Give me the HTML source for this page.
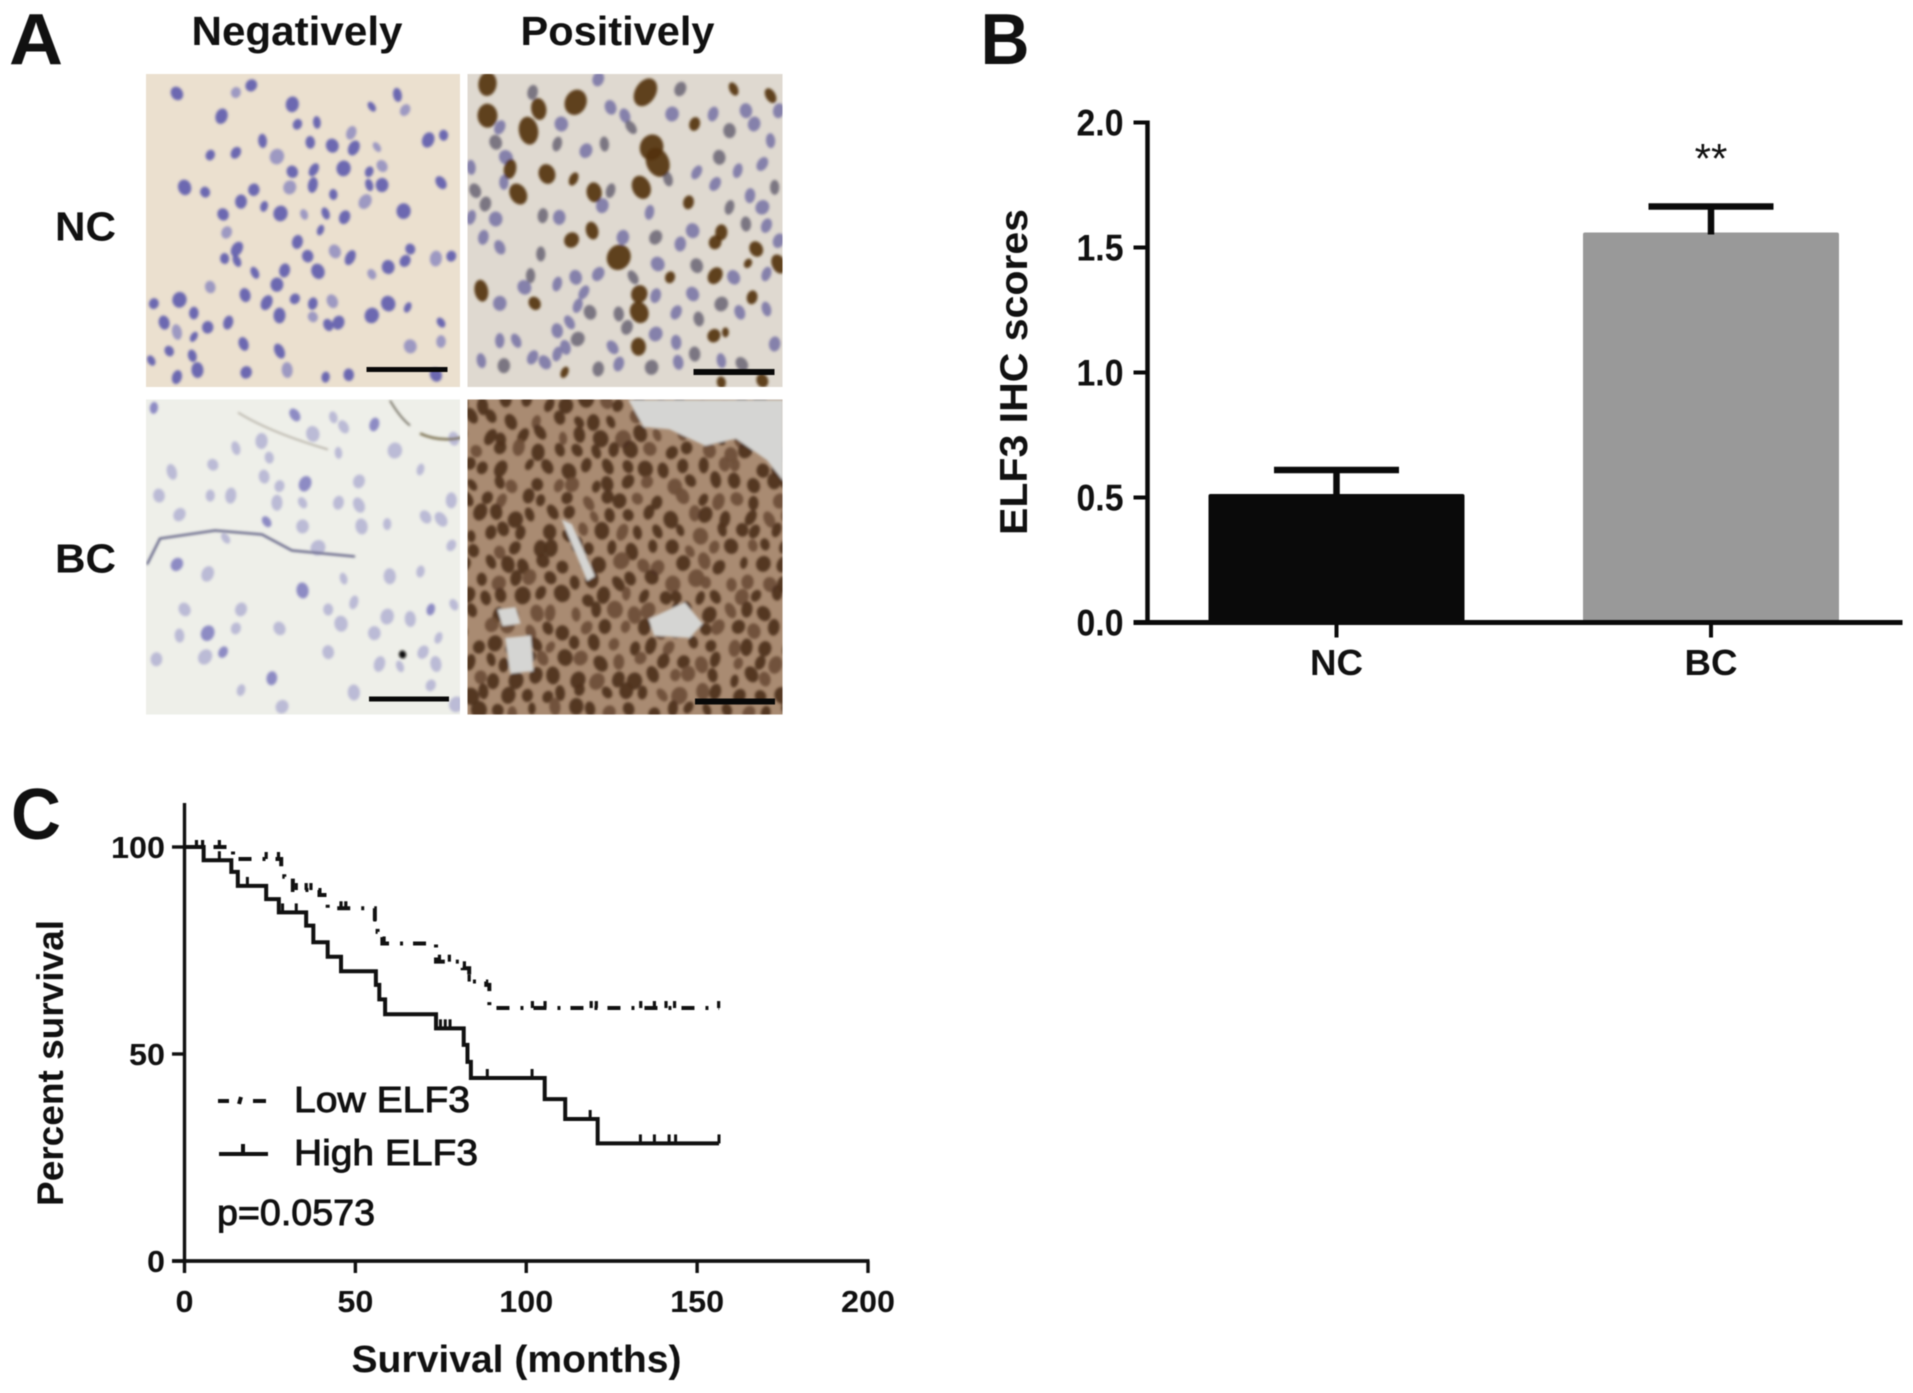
<!DOCTYPE html>
<html lang="en">
<head>
<meta charset="utf-8">
<title>ELF3 IHC figure</title>
<style>
html,body{margin:0;padding:0;background:#fff}
svg{display:block;filter:blur(.6px)}
text{font-family:"Liberation Sans",sans-serif;fill:#111}
.b{font-weight:bold}
.m{stroke:#111;stroke-width:.9px}
</style>
</head>
<body>
<svg id="fig" xmlns="http://www.w3.org/2000/svg" width="1913" height="1393" viewBox="0 0 1913 1393">
<defs>
<clipPath id="c1"><rect x="146" y="74" width="314" height="313"/></clipPath>
<clipPath id="c2"><rect x="467.500" y="74" width="315" height="313"/></clipPath>
<clipPath id="c3"><rect x="146" y="399.500" width="314" height="315"/></clipPath>
<clipPath id="c4"><rect x="467.500" y="399.500" width="315" height="315"/></clipPath>
<filter id="soft" x="-5%" y="-5%" width="110%" height="110%"><feGaussianBlur stdDeviation="1.2"/></filter>
</defs>

<g id="panelA">
  <text class="b" x="9" y="64" font-size="72" textLength="54" lengthAdjust="spacingAndGlyphs">A</text>
  <text class="b" x="191.500" y="45" font-size="41" textLength="211" lengthAdjust="spacingAndGlyphs">Negatively</text>
  <text class="b" x="520.500" y="45" font-size="41" textLength="194" lengthAdjust="spacingAndGlyphs">Positively</text>
  <text class="b" x="55" y="240.500" font-size="41" textLength="61" lengthAdjust="spacingAndGlyphs">NC</text>
  <text class="b" x="55" y="572.500" font-size="41" textLength="61" lengthAdjust="spacingAndGlyphs">BC</text>

  <g clip-path="url(#c1)">
    <rect x="146" y="74" width="317" height="314" fill="#ebe0cf"/>
    <g id="m1" filter="url(#soft)"></g>
    <rect x="366.500" y="367" width="81" height="5" fill="#080808"/>
  </g>
  <g clip-path="url(#c2)">
    <rect x="467" y="74" width="316" height="314" fill="#dfd9d0"/>
    <g id="m2" transform="translate(-2.500,0)" filter="url(#soft)"></g>
    <rect x="693.500" y="369" width="81" height="6" fill="#080808"/>
  </g>
  <g clip-path="url(#c3)">
    <rect x="146" y="399" width="317" height="316" fill="#eeefe9"/>
    <g id="m3" transform="translate(0,-2.500)" filter="url(#soft)"></g>
    <rect x="369" y="696.500" width="80" height="5" fill="#080808"/>
  </g>
  <g clip-path="url(#c4)">
    <rect x="467" y="399" width="316" height="316" fill="#a98b72"/>
    <g id="m4" transform="translate(-2.500,-2.500)" filter="url(#soft)"></g>
    <rect x="695" y="698.500" width="80" height="6" fill="#080808"/>
  </g>
</g>

<g id="panelB">
  <text class="b" x="980.500" y="64" font-size="72" textLength="49" lengthAdjust="spacingAndGlyphs">B</text>
  <text class="b" transform="translate(1027,372) rotate(-90)" text-anchor="middle" font-size="39" textLength="326" lengthAdjust="spacingAndGlyphs">ELF3 IHC scores</text>
  <g id="chartB"></g>
</g>

<g id="panelC">
  <text class="b" x="11" y="839" font-size="72" textLength="50" lengthAdjust="spacingAndGlyphs">C</text>
  <text class="b" transform="translate(63,1063) rotate(-90)" text-anchor="middle" font-size="37" textLength="286" lengthAdjust="spacingAndGlyphs">Percent survival</text>
  <text class="b" x="516.500" y="1372" text-anchor="middle" font-size="38" textLength="330" lengthAdjust="spacingAndGlyphs">Survival (months)</text>
  <g id="chartC"></g>
  <g>
    <path d="M218 1101H229M241 1097L239 1104M253 1101H266" fill="none" stroke="#111" stroke-width="4"/>
    <text class="m" x="294" y="1112" font-size="36" textLength="176" lengthAdjust="spacingAndGlyphs">Low ELF3</text>
  </g>
  <g>
    <path d="M219 1154H268M243 1154V1144" fill="none" stroke="#111" stroke-width="4"/>
    <text class="m" x="294" y="1165" font-size="36" textLength="184" lengthAdjust="spacingAndGlyphs">High ELF3</text>
  </g>
  <text class="m" x="217" y="1225" font-size="36" textLength="158" lengthAdjust="spacingAndGlyphs">p=0.0573</text>
</g>

<script>
// ---------- Bar chart data (panel B) ----------
const barCategories = ['NC', 'BC'];
const barMeans = [0.514, 1.56];
const barErrors = [0.096, 0.104];
const barColors = ['#0a0a0a', '#999999'];
const barYTicks = [0, 0.5, 1, 1.5, 2];
const barYTickLabels = ['0.0', '0.5', '1.0', '1.5', '2.0'];
const barSignificance = ['', '**'];

// ---------- Survival chart data (panel C) ----------
const survivalXTicks = [0, 50, 100, 150, 200];
const survivalYTicks = [0, 50, 100];
const followUpEnd = 156.4;
const highTimes = [5.6, 13.7, 15.6, 23.9, 27.6, 35.6, 37.7, 41.9, 45.8, 56, 57, 58.7, 73.6, 81.7, 82.8, 83.8, 105.4, 111.4, 120.9];
const highSurvival = [96.8, 94.0, 90.6, 87.4, 84.2, 81.0, 77.0, 73.5, 70.0, 66.7, 63.2, 59.6, 56.2, 52.2, 48.1, 44.2, 39.1, 34.3, 28.4];
const highCensored = [10.2, 18.4, 28.7, 32.7, 74.9, 76.3, 77.7, 88.6, 101.7, 118.7, 133.4, 137.5, 141.8, 143.7, 156.4];
const lowTimes = [14.2, 28.3, 29.2, 31.7, 39.5, 41.9, 55.7, 56.5, 57.9, 73.6, 81.4, 83.3, 88.3, 89.2];
const lowSurvival = [97.1, 94.9, 92.8, 89.6, 88.4, 85.2, 82, 79.5, 76.7, 72.3, 70.7, 67.5, 66.7, 61.1];
const lowCensored = [3.5, 5.3, 10.2, 23.9, 27.5, 32.7, 35.6, 37, 45.8, 47.2, 55.7, 58.4, 74.6, 77.5, 81.9, 83.3, 101.8, 105.5, 119, 120.5, 133.5, 137.5, 140.9, 143.4, 156.3];

const NS = 'http://www.w3.org/2000/svg';
function mk(tag, attrs, parent) {
  const el = document.createElementNS(NS, tag);
  for (const k in attrs) el.setAttribute(k, attrs[k]);
  parent.appendChild(el);
  return el;
}

// ---------- Panel B ----------
(function () {
  const g = document.getElementById('chartB');
  const y = v => 622.5 - v * 250;
  const xCenter = i => 1336.5 + i * 374.5;
  const barW = 256, capW = 125;
  const axisX = 1147.5;

  barCategories.forEach((cat, i) => {
    const cx = xCenter(i);
    const bar = mk('rect', { x: cx - barW / 2, y: y(barMeans[i]), width: barW, height: y(0) - y(barMeans[i]), rx: 2, fill: barColors[i] }, g);
    
    
    const top = y(barMeans[i] + barErrors[i]);
    const err = mk('path', { d: `M${cx} ${y(barMeans[i]) + 2}V${top}M${cx - capW / 2} ${top}H${cx + capW / 2}`, fill: 'none', stroke: '#0a0a0a', 'stroke-width': 6.5 }, g);
    
    
    const tick = mk('line', { x1: cx, x2: cx, y1: y(0), y2: y(0) + 15, stroke: '#0a0a0a', 'stroke-width': 4 }, g);
    
    
    const lab = mk('text', { x: cx, y: 675, 'text-anchor': 'middle', 'font-size': 36, 'font-weight': 'bold', textLength: 53, lengthAdjust: 'spacingAndGlyphs' }, g);
    lab.textContent = cat;
    
    
    if (barSignificance[i]) {
      const s = mk('text', { x: cx, y: 173, 'text-anchor': 'middle', 'font-size': 42, fill: '#333' }, g);
      s.textContent = barSignificance[i];
      
      
    }
  });

  const yAxis = mk('line', { x1: axisX, x2: axisX, y1: y(2) - 2, y2: y(0) + 2, stroke: '#0a0a0a', 'stroke-width': 4.5 }, g);
  
  
  const xAxis = mk('line', { x1: axisX - 14, x2: 1902.5, y1: y(0), y2: y(0), stroke: '#0a0a0a', 'stroke-width': 5 }, g);
  
  

  barYTicks.forEach((v, i) => {
    const t = mk('line', { x1: axisX - 14, x2: axisX, y1: y(v), y2: y(v), stroke: '#0a0a0a', 'stroke-width': 4 }, g);
    
    
    const l = mk('text', { x: axisX - 24, y: y(v) + 13, 'text-anchor': 'end', 'font-size': 37, 'font-weight': 'bold', textLength: 47, lengthAdjust: 'spacingAndGlyphs' }, g);
    l.textContent = barYTickLabels[i];
    
    
  });
})();

// ---------- Panel C ----------
(function () {
  const g = document.getElementById('chartC');
  const x = t => 184.5 + t * 3.4175;
  const y = p => 1261 - p * 4.14;

  function stepPath(times, surv) {
    let d = `M${x(0)} ${y(100)}`;
    times.forEach((t, i) => { d += `H${x(t)}V${y(surv[i])}`; });
    return d + `H${x(followUpEnd)}`;
  }
  function survivalAt(times, surv, t) {
    let s = 100;
    times.forEach((tt, i) => { if (tt <= t) s = surv[i]; });
    return s;
  }

  const yAxis = mk('line', { x1: x(0), x2: x(0), y1: 803, y2: y(0) + 2, stroke: '#111', 'stroke-width': 3.4 }, g);
  
  
  const xAxis = mk('line', { x1: 172, x2: x(200) + 1.5, y1: y(0), y2: y(0), stroke: '#111', 'stroke-width': 3.8 }, g);
  
  

  survivalXTicks.forEach(v => {
    const t = mk('line', { x1: x(v), x2: x(v), y1: y(0), y2: y(0) + 12, stroke: '#111', 'stroke-width': 3.4 }, g);
    
    
    const s = String(v);
    const l = mk('text', { x: x(v), y: 1312, 'text-anchor': 'middle', 'font-size': 31, 'font-weight': 'bold', textLength: s.length * 18, lengthAdjust: 'spacingAndGlyphs' }, g);
    l.textContent = s;
    
    
  });
  survivalYTicks.forEach(v => {
    const t = mk('line', { x1: 172, x2: x(0), y1: y(v), y2: y(v), stroke: '#111', 'stroke-width': 3.4 }, g);
    
    
    const s = String(v);
    const l = mk('text', { x: 165, y: y(v) + 11, 'text-anchor': 'end', 'font-size': 31, 'font-weight': 'bold', textLength: s.length * 18, lengthAdjust: 'spacingAndGlyphs' }, g);
    l.textContent = s;
    
    
  });

  const low = mk('path', { d: stepPath(lowTimes, lowSurvival), fill: 'none', stroke: '#111', 'stroke-width': 4, 'stroke-dasharray': '13 11 3 10', 'stroke-dashoffset': 8 }, g);
  
  
  lowCensored.forEach(t => {
    const py = y(survivalAt(lowTimes, lowSurvival, t));
    const c = mk('line', { x1: x(t), x2: x(t), y1: py, y2: py - 7, stroke: '#111', 'stroke-width': 3.2 }, g);
    
    
  });

  const high = mk('path', { d: stepPath(highTimes, highSurvival), fill: 'none', stroke: '#111', 'stroke-width': 4 }, g);
  
  
  highCensored.forEach(t => {
    const py = y(survivalAt(highTimes, highSurvival, t));
    const c = mk('line', { x1: x(t), x2: x(t), y1: py, y2: py - 9, stroke: '#111', 'stroke-width': 3 }, g);
    
    
  });
})();
</script>

<script>
// Decorative micrograph texture (tissue photographs, not chart data).
(function () {
  const SX = 1 / 1.95, SY = 1 / 2.108;
  const ZX = 1 / 2.4375, ZY = 1 / 3;
  function shape(g, cx, cy, r, fill, name, op) {
    const seedish = Math.abs(Math.round(cx * 7 + cy * 13));
    const a = (seedish % 70) - 35;
    const squash = 0.62 + (seedish % 5) * 0.07;
    const e = document.createElementNS('http://www.w3.org/2000/svg', 'ellipse');
    e.setAttribute('cx', cx);
    e.setAttribute('cy', cy);
    e.setAttribute('rx', r * squash);
    e.setAttribute('ry', r);
    e.setAttribute('fill', fill);
    e.setAttribute('opacity', op);
    e.setAttribute('transform', `rotate(${a} ${cx} ${cy})`);
    
    
    g.appendChild(e);
  }
  function blob(g, px, py, r, fill, name, op) {
    shape(g, px * SX, py * SY, r, fill, name, op);
  }
  function zblob(g, zx, zy, r, fill, name, op) {
    shape(g, 147 + zx * ZX, 74 + zy * ZY, r, fill, name, op);
  }

  const ncNeg = [[460,195],[490,180],[345,197],[570,220],[725,225],[790,232],[775,200],[432,245],[580,262],[618,258],[685,280],[835,295],[865,285],[460,322],[512,297],[540,330],[410,327],[605,300],[648,307],[690,312],[735,310],[570,362],[612,358],[670,355],[720,362],[745,350],[860,385],[360,395],[400,405],[495,400],[565,395],[610,390],[650,410],[720,390],[745,390],[712,425],[515,435],[435,452],[470,425],[547,450],[593,452],[635,450],[672,458],[787,445],[625,485],[442,490],[580,510],[462,525],[438,545],[462,550],[653,530],[683,543],[800,525],[790,550],[757,563],[850,545],[880,540],[497,575],[555,570],[620,572],[725,578],[600,540],[540,600],[350,632],[300,640],[410,605],[478,622],[520,638],[575,630],[610,640],[648,635],[757,640],[795,648],[378,660],[320,680],[345,700],[378,710],[405,690],[445,680],[545,665],[610,668],[640,685],[660,680],[725,665],[860,680],[860,720],[475,725],[545,740],[330,740],[375,750],[800,730],[385,780],[295,760],[480,785],[345,795],[560,780],[635,795],[680,790],[850,790]];
  const m1 = document.getElementById('m1');
  ncNeg.forEach((p, i) => blob(m1, p[0], p[1], 5.5 + (i % 4) * 0.8, i % 5 === 0 ? '#8f8cc0' : '#5553ab', 'nucleus', 0.85));

  const ncPosBlue = [[940,55],[1165,125],[1100,15],[1300,45],[1460,110],[1520,200],[1115,210],[1070,230],[860,160],[850,205],[875,250],[870,325],[825,390],[850,435],[820,490],[1130,350],[1110,395],[1225,415],[1270,315],[1340,295],[1440,290],[1420,400],[1470,365],[1005,430],[965,425],[1160,490],[1245,570],[1340,575],[1045,610],[1100,600],[1185,610],[1240,665],[1065,655],[935,605],[860,688],[1050,695],[1080,715],[1030,745],[1000,770],[1050,795],[900,800],[860,800],[870,875],[940,850],[970,865],[1100,885],[1150,870],[1135,820],[1230,880],[1290,805],[1295,865],[1335,840],[1510,705],[1445,715],[1345,735],[1510,600],[1510,455],[1460,450],[815,860],[1380,120],[1420,170],[1480,150],[1540,110],[1395,250],[1500,270],[1385,330],[1530,340],[1500,400],[1330,470],[1240,490],[1300,510],[1540,500],[1400,690],[1330,660],[1430,610],[1180,160],[1130,100],[1280,120],[1000,210],[1010,150],[790,280],[800,350],[790,430],[860,520],[960,540],[920,640],[1000,630],[1150,720],[1290,715],[1400,860],[1450,870],[1530,810],[1240,780],[1170,760],[1000,840],[1020,820]];
  const ncPosBrown = [[830,30,12],[1215,55,15],[1045,85,13],[955,105,11],[830,125,12],[930,170,14],[1230,220,13],[1245,265,15],[1205,340,12],[1090,355,10],[975,300,10],[885,285,10],[905,360,11],[1040,315,7],[1320,385,7],[1335,150,7],[1430,45,7],[1520,65,8],[1400,475,8],[1385,505,7],[1485,525,8],[1540,570,10],[1035,498,8],[1085,470,9],[1150,550,13],[1275,610,6],[1385,605,9],[1475,670,7],[815,650,11],[945,688,7],[1200,715,11],[1200,660,9],[1198,818,9],[1382,785,7],[1410,775,5],[1465,568,5],[1018,895,6],[1400,925,6],[1500,920,7]];
  const m2 = document.getElementById('m2');
  ncPosBlue.forEach((p, i) => zblob(m2, p[0] + 6, p[1], 7.5, i % 3 === 0 ? '#6a6574' : '#7571a4', 'nucleus', 0.85));
  ncPosBrown.forEach(p => zblob(m2, p[0] + 6, p[1], p[2], '#54330f', 'stained-nucleus', 0.92));

  const bcNeg = [[300,865],[310,1050],[335,1000],[415,985],[460,950],[510,935],[525,970],[575,880],[610,920],[650,885],[670,905],[770,955],[820,995],[700,1020],[595,1025],[545,1030],[515,1010],[540,1065],[590,1065],[660,1065],[700,1070],[520,1105],[590,1115],[705,1115],[755,1110],[830,1095],[860,1100],[880,1155],[345,1195],[405,1215],[670,1225],[690,1275],[755,1305],[885,1280],[350,1345],[405,1340],[460,1330],[545,1330],[665,1320],[855,1350],[305,1395],[400,1390],[435,1380],[640,1380],[740,1405],[780,1410],[825,1380],[850,1405],[470,1460],[530,1435],[690,1465],[840,1450],[550,1495],[890,1490],[410,1050],[885,930],[590,1250],[640,1290],[470,1290],[760,1220],[820,1210],[360,1290],[620,1160],[840,1290],[730,1340],[800,1310],[440,1140],[350,1090],[450,1050],[660,960],[730,900],[880,1060]];
  const m3 = document.getElementById('m3');
  bcNeg.forEach((p, i) => blob(m3, p[0], p[1], 6 + (i % 3), i % 7 === 0 ? '#7c7abd' : '#b3b2d2', 'nucleus', 0.85));
  [['M147 567L160 541L215 533L262 537L292 553L355 559', '#4f5078', 2],
   ['M238 415Q270 435 328 452', '#9c9488', 1.2],
   ['M390 403Q400 420 410 428', '#5a5546', 1.6],
   ['M420 436Q440 445 462 440', '#7a6f50', 2.5]].forEach(v => {
    const l = document.createElementNS('http://www.w3.org/2000/svg', 'path');
    l.setAttribute('d', v[0]);
    l.setAttribute('fill', 'none');
    l.setAttribute('stroke', v[1]);
    l.setAttribute('stroke-width', v[2]);
    
    
    m3.appendChild(l);
  });
  blob(m3, 785, 1385, 4, '#111111', 'pigment-spot', 1);

  const m4 = document.getElementById('m4');
  let seed = 1913;
  const rnd = () => (seed = (seed * 16807) % 2147483647) / 2147483647;
  for (let yy = 855; yy < 1520; yy += 34) {
    for (let xx = 915; xx < 1540; xx += 38) {
      const px = xx + (rnd() - 0.5) * 22 + (yy % 68 === 855 % 68 ? 0 : 19);
      const py = yy + (rnd() - 0.5) * 18;
      blob(m4, px, py, 6 + rnd() * 3, rnd() > 0.3 ? '#4f3220' : '#6f4f38', 'stained-nucleus', 0.95);
    }
  }
  [[[1230,848],[1533,848],[1533,1020],[1500,975],[1440,930],[1380,945],[1310,910],[1260,905]],
   [[1270,1310],[1340,1275],[1375,1320],[1350,1350],[1280,1345]],
   [[990,1350],[1040,1345],[1045,1420],[1000,1425]],
   [[975,1290],[1010,1285],[1020,1320],[985,1325]],
   [[1100,1100],[1120,1110],[1165,1220],[1150,1230]]].forEach(h => {
    const poly = document.createElementNS('http://www.w3.org/2000/svg', 'polygon');
    poly.setAttribute('points', h.map(q => (q[0] * SX) + ',' + (q[1] * SY)).join(' '));
    poly.setAttribute('fill', '#d5d5d3');
    
    
    m4.appendChild(poly);
  });
})();
</script>
</svg>
</body>
</html>
